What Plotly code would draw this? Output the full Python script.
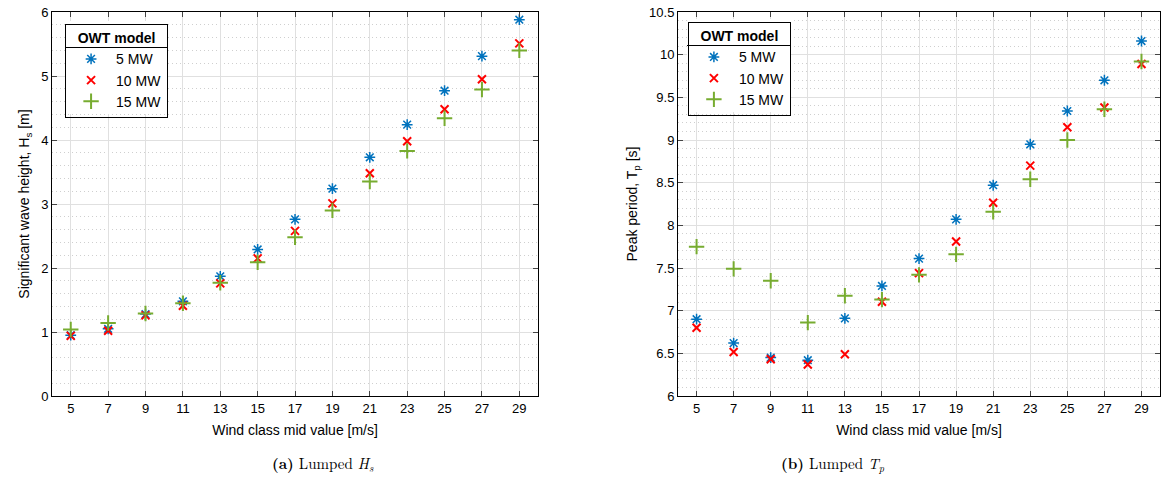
import plotly.graph_objects as go

wind = [5, 7, 9, 11, 13, 15, 17, 19, 21, 23, 25, 27, 29]
x_ticks = wind

hs_5mw = [0.95, 1.05, 1.28, 1.48, 1.87, 2.29, 2.76, 3.24, 3.73, 4.24, 4.77, 5.31, 5.88]
hs_10mw = [0.94, 1.02, 1.26, 1.41, 1.76, 2.15, 2.58, 3.01, 3.48, 3.98, 4.48, 4.95, 5.51]
hs_15mw = [1.04, 1.14, 1.29, 1.45, 1.77, 2.09, 2.48, 2.90, 3.35, 3.83, 4.34, 4.79, 5.40]

tp_5mw = [6.90, 6.62, 6.45, 6.42, 6.91, 7.29, 7.61, 8.07, 8.47, 8.95, 9.34, 9.70, 10.16]
tp_10mw = [6.80, 6.515, 6.43, 6.37, 6.49, 7.105, 7.44, 7.81, 8.265, 8.70, 9.15, 9.38, 9.89]
tp_15mw = [7.75, 7.49, 7.35, 6.86, 7.175, 7.13, 7.42, 7.66, 8.16, 8.54, 9.00, 9.36, 9.92]

series_names = ["5 MW", "10 MW", "15 MW"]
colors = ["#0072BD", "#FF0000", "#77AC30"]
symbols = ["asterisk-open", "x-thin-open", "cross-thin-open"]
sizes = [9, 8, 11]

FONT = "Liberation Sans, Arial, sans-serif"
SERIF = "Latin Modern Roman, CMU Serif, Liberation Serif, DejaVu Serif, serif"

fig = go.Figure()

for i, (name, ys) in enumerate(zip(series_names, [hs_5mw, hs_10mw, hs_15mw])):
    fig.add_trace(go.Scatter(
        x=wind, y=ys, mode="markers", name=name,
        marker=dict(symbol=symbols[i], size=sizes[i], color=colors[i],
                    line=dict(color=colors[i], width=2 if i else 1.5)),
        xaxis="x", yaxis="y", legend="legend"))

for i, (name, ys) in enumerate(zip(series_names, [tp_5mw, tp_10mw, tp_15mw])):
    fig.add_trace(go.Scatter(
        x=wind, y=ys, mode="markers", name=name,
        marker=dict(symbol=symbols[i], size=sizes[i], color=colors[i],
                    line=dict(color=colors[i], width=2 if i else 1.5)),
        xaxis="x2", yaxis="y2", legend="legend2"))

common_x = dict(range=[4, 30], tickvals=x_ticks, ticks="inside", ticklen=5,
                showline=True, linecolor="black", linewidth=1, mirror="ticks",
                showgrid=True, gridcolor="#e0e0e0", gridwidth=1, zeroline=False,
                automargin=False,
                tickfont=dict(size=13, color="black", family=FONT),
                title=dict(text="Wind class mid value [m/s]", standoff=10,
                           font=dict(size=14, color="black", family=FONT)))

common_y = dict(ticks="inside", ticklen=5, automargin=False,
                showline=True, linecolor="black", linewidth=1, mirror="ticks",
                showgrid=True, gridcolor="#e0e0e0", gridwidth=1, zeroline=False,
                tickfont=dict(size=13, color="black", family=FONT))

minor_common = dict(showgrid=True, gridcolor="#cfcfcf", griddash="1px,3px", gridwidth=1)

leg_common = dict(xanchor="left", yanchor="top",
                  bgcolor="rgba(0,0,0,0)", bordercolor="black", borderwidth=1,
                  itemwidth=40,
                  font=dict(size=14, family=FONT, color="black"),
                  title=dict(text="<b>OWT model</b>", side="top center",
                             font=dict(size=14, family=FONT, color="black")))

fig.update_layout(
    width=1162, height=492,
    margin=dict(l=0, r=0, t=0, b=0, autoexpand=False),
    paper_bgcolor="white", plot_bgcolor="white",
    font=dict(family=FONT, color="black"),
    xaxis=dict(domain=[0.0448, 0.463], anchor="y", **common_x),
    yaxis=dict(domain=[0.1951, 0.9756], anchor="x", range=[0, 6], dtick=1,
               minor=dict(dtick=0.2, **minor_common),
               title=dict(text="Significant wave height, H<sub>s</sub> [m]", standoff=8,
                          font=dict(size=14, color="black", family=FONT)),
               **common_y),
    xaxis2=dict(domain=[0.5835, 0.9983], anchor="y2", **common_x),
    yaxis2=dict(domain=[0.1951, 0.9756], anchor="x2", range=[6, 10.5], dtick=0.5,
                minor=dict(dtick=0.1, **minor_common),
                title=dict(text="Peak period, T<sub>p</sub> [s]", standoff=8,
                           font=dict(size=14, color="black", family=FONT)),
                **common_y),
    legend=dict(x=0.056, y=0.951, **leg_common),
    legend2=dict(x=0.592, y=0.955, **leg_common),
    showlegend=True,
)

def px_x(v):
    return v / 1162

def px_y(v):
    return 1 - v / 492

# white legend backgrounds (drawn as shapes so the header rule shows above them)
for (x0, x1, y0, y1, ysep) in [(66, 168, 21, 114, 47.5), (687, 791, 19, 112, 45.5)]:
    fig.add_shape(type="rect", xref="paper", yref="paper", layer="above",
                  x0=px_x(x0), x1=px_x(x1), y0=px_y(y1), y1=px_y(y0),
                  fillcolor="white", line=dict(width=0))
    fig.add_shape(type="line", xref="paper", yref="paper", layer="above",
                  x0=px_x(x0), x1=px_x(x1), y0=px_y(ysep), y1=px_y(ysep),
                  line=dict(color="black", width=1))

fig.add_annotation(x=270 / 1162, y=1 - 477 / 492, xref="paper", yref="paper",
                   text="<b>(a)</b> Lumped <i>H<sub>s</sub></i>", showarrow=False,
                   font=dict(size=15, family=SERIF, color="black"))
fig.add_annotation(x=887 / 1162, y=1 - 477 / 492, xref="paper", yref="paper",
                   text="<b>(b)</b> Lumped <i>T<sub>p</sub></i>", showarrow=False,
                   font=dict(size=15, family=SERIF, color="black"))

fig.write_html("out.html")
